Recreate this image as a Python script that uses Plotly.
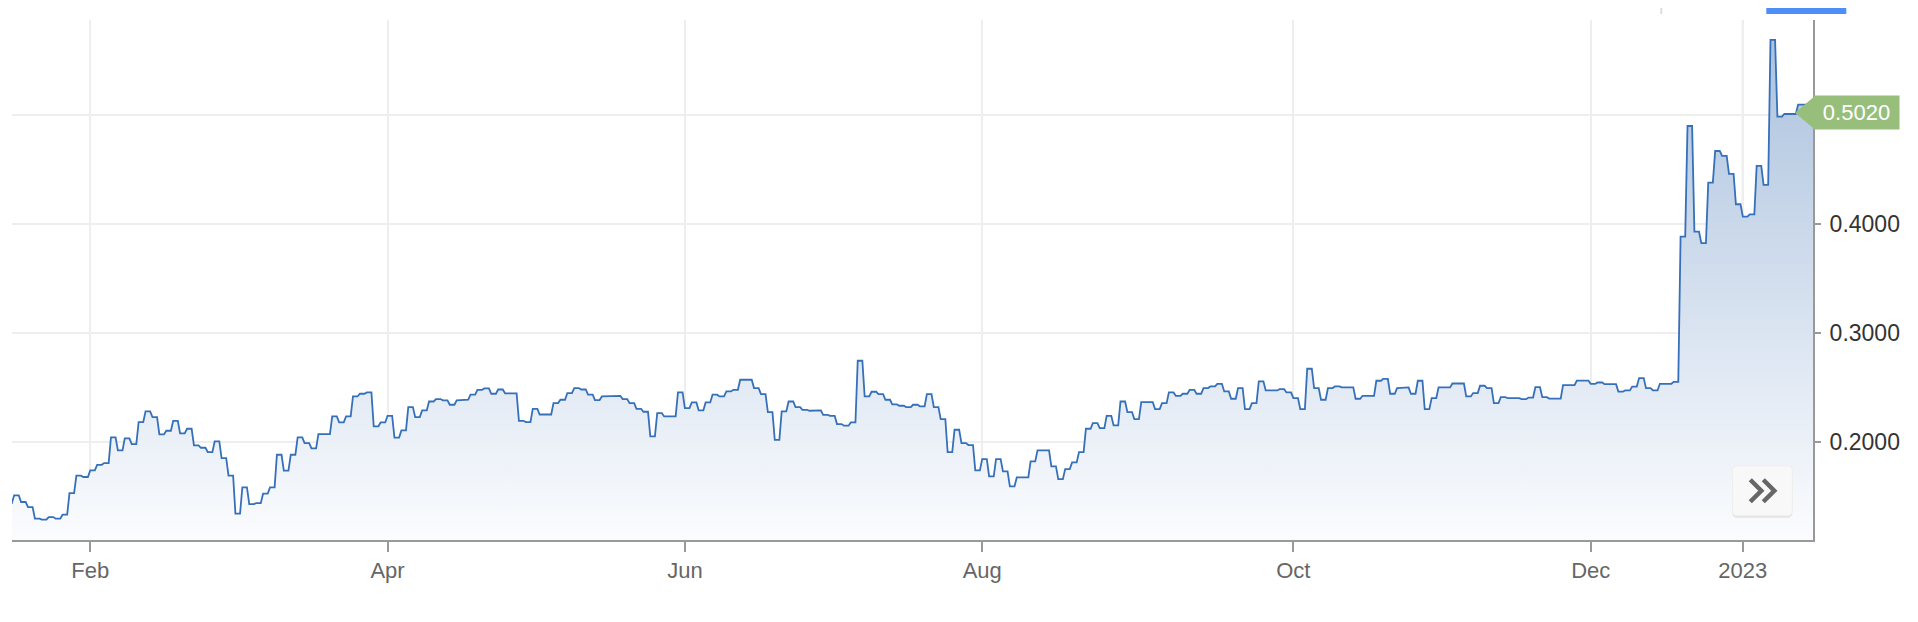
import pandas as pd
import plotly.graph_objects as go

# daily closes, one per weekday from 14 Jan 2022 to 16 Jan 2023
close = [
    0.1444, 0.1515, 0.1454, 0.1408, 0.1301, 0.1292, 0.1316, 0.1301, 0.1338, 0.1536,
    0.1695, 0.1683, 0.1744, 0.1795, 0.1811, 0.2046, 0.1927, 0.2037, 0.1985, 0.2186,
    0.2284, 0.2232, 0.2073, 0.2107, 0.2198, 0.2082, 0.2125, 0.1973, 0.1951, 0.1911,
    0.2009, 0.1857, 0.1695, 0.1347, 0.1588, 0.1435, 0.1444, 0.1530, 0.1588, 0.1887,
    0.1741, 0.1887, 0.2046, 0.1994, 0.1945, 0.2076, 0.2076, 0.2238, 0.2183, 0.2238,
    0.2421, 0.2446, 0.2458, 0.2147, 0.2183, 0.2244, 0.2043, 0.2110, 0.2324, 0.2232,
    0.2293, 0.2375, 0.2397, 0.2385, 0.2345, 0.2385, 0.2391, 0.2437, 0.2482, 0.2495,
    0.2446, 0.2485, 0.2449, 0.2449, 0.2198, 0.2186, 0.2308, 0.2256, 0.2256, 0.2360,
    0.2391, 0.2452, 0.2498, 0.2485, 0.2437, 0.2388, 0.2421, 0.2427, 0.2427, 0.2397,
    0.2360, 0.2308, 0.2281, 0.2055, 0.2269, 0.2238, 0.2238, 0.2458, 0.2314, 0.2366,
    0.2293, 0.2366, 0.2437, 0.2421, 0.2467, 0.2482, 0.2574, 0.2574, 0.2498, 0.2443,
    0.2278, 0.2024, 0.2284, 0.2375, 0.2324, 0.2299, 0.2290, 0.2293, 0.2253, 0.2244,
    0.2168, 0.2153, 0.2183, 0.2748, 0.2421, 0.2464, 0.2443, 0.2391, 0.2348, 0.2336,
    0.2324, 0.2345, 0.2330, 0.2443, 0.2324, 0.2214, 0.1911, 0.2116, 0.1994, 0.1976,
    0.1744, 0.1847, 0.1689, 0.1847, 0.1734, 0.1597, 0.1679, 0.1679, 0.1826, 0.1927,
    0.1927, 0.1780, 0.1664, 0.1756, 0.1817, 0.1911, 0.2125, 0.2177, 0.2131, 0.2244,
    0.2156, 0.2375, 0.2278, 0.2214, 0.2369, 0.2369, 0.2305, 0.2360, 0.2458, 0.2427,
    0.2446, 0.2482, 0.2446, 0.2498, 0.2513, 0.2537, 0.2467, 0.2400, 0.2498, 0.2305,
    0.2360, 0.2559, 0.2476, 0.2476, 0.2488, 0.2458, 0.2406, 0.2305, 0.2675, 0.2498,
    0.2391, 0.2498, 0.2513, 0.2504, 0.2504, 0.2400, 0.2427, 0.2427, 0.2565, 0.2583,
    0.2446, 0.2498, 0.2504, 0.2446, 0.2565, 0.2305, 0.2406, 0.2504, 0.2504, 0.2540,
    0.2540, 0.2421, 0.2452, 0.2519, 0.2498, 0.2360, 0.2415, 0.2405, 0.2405, 0.2396,
    0.2411, 0.2506, 0.2415, 0.2402, 0.2402, 0.2524, 0.2524, 0.2567, 0.2567, 0.2537,
    0.2549, 0.2534, 0.2534, 0.2466, 0.2476, 0.2512, 0.2589, 0.2497, 0.2476, 0.2537,
    0.2537, 0.2555, 0.3886, 0.4899, 0.3932, 0.3825, 0.4380, 0.4670, 0.4625, 0.4460,
    0.4182, 0.4069, 0.4090, 0.4533, 0.4359, 0.5687, 0.4985, 0.5009, 0.5009, 0.5095,
    0.5095, 0.5020,
]

tick_dates = ["2022-02-01", "2022-04-01", "2022-06-01", "2022-08-01",
              "2022-10-03", "2022-12-01", "2023-01-02"]
tick_text = ["Feb", "Apr", "Jun", "Aug", "Oct", "Dec", "2023"]
y_ticks = [0.2, 0.3, 0.4, 0.5]
# 0.5 is hidden under the last-price tag, so no label for it
y_tick_text = ["0.2000", "0.3000", "0.4000", ""]

dates = pd.bdate_range("2022-01-14", "2023-01-16")

# each day is held flat for most of the session, then moves to the next close
hold = pd.Timedelta(hours=16)
xs, ys = [], []
for d, v in zip(dates, close):
    xs += [d, d + hold]
    ys += [v, v]

y_lo, y_hi = 0.1106, 0.587
last = close[-1]

fig = go.Figure()
fig.add_trace(go.Scatter(
    x=xs, y=ys,
    mode="lines",
    line=dict(color="#3570b9", width=1.8),
    fill="tozeroy",
    fillgradient=dict(type="vertical", start=y_lo, stop=y_hi,
                      colorscale=[[0, "#fbfcfe"], [1, "#a9c0dd"]]),
    hoverinfo="skip",
    showlegend=False,
))

# the page body has an 8px margin, so the figure is a bit smaller than the window
W, H, OFF = 1902, 606, 8
# plot area in window pixels
L, R, T, B = 12.2, 1812.7, 20, 540.3
def px(x, y):
    return (x - L) / (R - L), (B - y) / (B - T)

shapes = []
# the year gridline is drawn a bit darker
shapes.append(dict(type="line", xref="x", yref="paper", x0=tick_dates[-1], x1=tick_dates[-1],
                   y0=0, y1=1, line=dict(color="#d9d9d9", width=2), layer="below"))

# green tag pointing at the last value
shapes.append(dict(type="path", xref="paper", yref="y", xsizemode="pixel", ysizemode="pixel",
                   xanchor=1, yanchor=last, path="M-18,0 L1,16 L1,-16 Z",
                   fillcolor="#97bf7b", line=dict(width=0)))

# ">>" scroll button
bx, by = px(1762, 491)
rr = "M-25,-25 L25,-25 Q30,-25 30,-20 L30,20 Q30,25 25,25 L-25,25 Q-30,25 -30,20 L-30,-20 Q-30,-25 -25,-25 Z"
shapes.append(dict(type="path", xref="paper", yref="paper", xsizemode="pixel", ysizemode="pixel",
                   xanchor=bx, yanchor=by - 2 / (B - T), path=rr,
                   fillcolor="#e4e4e4", line=dict(width=0)))
shapes.append(dict(type="path", xref="paper", yref="paper", xsizemode="pixel", ysizemode="pixel",
                   xanchor=bx, yanchor=by, path=rr,
                   fillcolor="#f8f8f8", line=dict(color="#eeeeee", width=1)))
shapes.append(dict(type="path", xref="paper", yref="paper", xsizemode="pixel", ysizemode="pixel",
                   xanchor=bx, yanchor=by,
                   path="M-12,-11 L-1,0 L-12,11 M1,-11 L12,0 L1,11",
                   fillcolor="rgba(0,0,0,0)", line=dict(color="#666666", width=4.5)))

# tab underline and divider above the chart
x0, y0 = px(1766, 8)
x1, y1 = px(1846, 14)
shapes.append(dict(type="rect", xref="paper", yref="paper", x0=x0, x1=x1, y0=y1, y1=y0,
                   fillcolor="#4f8ef7", line=dict(width=0)))
x0, y0 = px(1661, 8)
x1, y1 = px(1661, 14)
shapes.append(dict(type="line", xref="paper", yref="paper", x0=x0, x1=x1, y0=y0, y1=y1,
                   line=dict(color="#dddddd", width=2)))

fig.update_layout(
    width=W, height=H,
    margin=dict(l=L - OFF, r=W - (R - OFF), t=T - OFF, b=H - (B - OFF)),
    paper_bgcolor="white",
    plot_bgcolor="white",
    font=dict(family="Liberation Sans, Arial, sans-serif"),
    shapes=shapes,
    annotations=[dict(
        xref="paper", yref="y", x=1, y=last,
        xanchor="left", yanchor="middle",
        text=f"{last:.4f}", showarrow=False,
        font=dict(color="white", size=22),
        bgcolor="#97bf7b", borderpad=4, width=77,
    )],
)

fig.update_xaxes(
    type="date",
    range=[dates[0] + pd.Timedelta(hours=16.5), dates[-1] + pd.Timedelta(hours=3.6)],
    rangebreaks=[dict(bounds=["sat", "mon"])],
    tickvals=tick_dates, ticktext=tick_text,
    ticks="outside", ticklen=10, tickwidth=2, tickcolor="#999999",
    showline=True, linecolor="#999999", linewidth=2,
    showgrid=True, gridcolor="#eeeeee", gridwidth=2,
    tickfont=dict(size=22, color="#666666"),
    zeroline=False,
)
fig.update_yaxes(
    range=[y_lo, y_hi],
    side="right",
    tickvals=y_ticks, ticktext=y_tick_text,
    ticks="outside", ticklen=6, tickwidth=2, tickcolor="#999999",
    showline=True, linecolor="#999999", linewidth=2,
    showgrid=True, gridcolor="#eeeeee", gridwidth=2,
    tickfont=dict(size=23, color="#333333"),
    ticklabelstandoff=4,
    zeroline=False,
)

fig.write_html("out.html")
